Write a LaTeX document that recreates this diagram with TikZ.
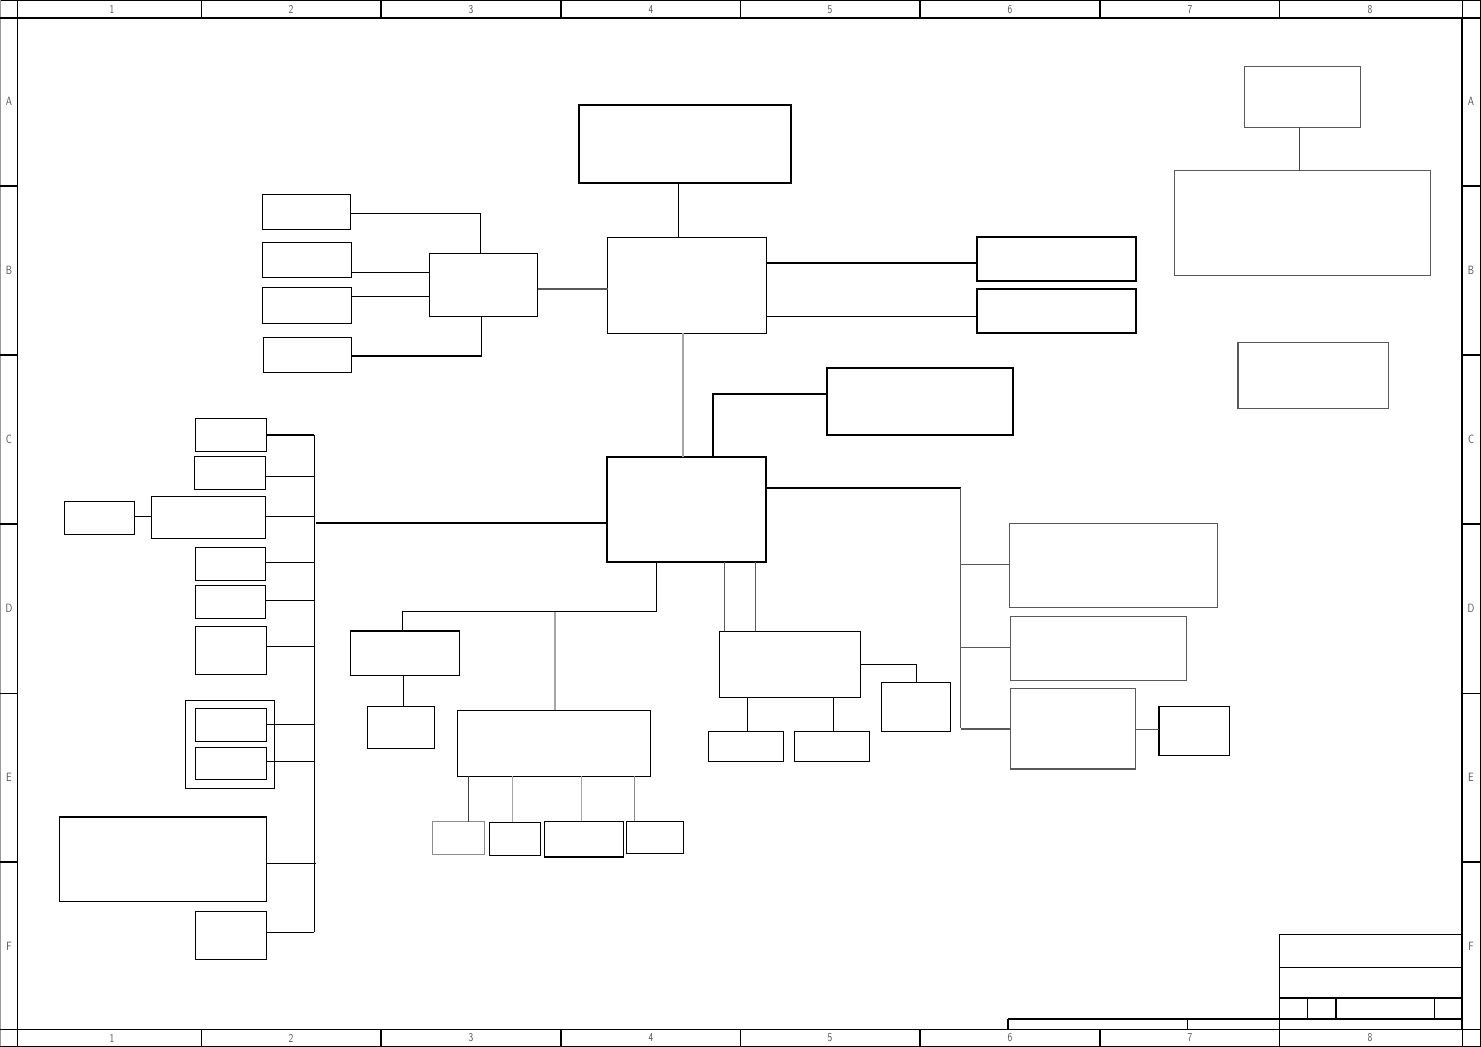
\documentclass[tikz,border=0pt]{standalone}
\usetikzlibrary{fit,calc}
\begin{document}
\begin{tikzpicture}[x=1pt,y=-1pt,
  bx/.style={draw, line width=1.3pt, inner sep=0pt, outer sep=0pt},
  gbx/.style={bx, draw=black!65},
  ln/.style={line width=1.3pt},
  gln/.style={line width=1.3pt, draw=black!65},
  lgln/.style={line width=1.3pt, draw=black!35},
  thk/.style={line width=2.4pt},
  fthin/.style={line width=0.9pt},
  fthk/.style={line width=1.9pt},
  lab/.style={font=\sffamily\fontsize{12}{12}\selectfont, text=black!70, inner sep=0pt, xscale=0.8}]
\useasboundingbox (0,0) rectangle (1481,1047);
% ---------------- frame ----------------
\draw[fthin] (0,0.6) -- (1481,0.6);
\draw[fthin, draw=black!40] (0.6,0) -- (0.6,1047);
\draw[fthin] (1480.3,0) -- (1480.3,1047);
\draw[fthin] (0,1046.3) -- (1481,1046.3);
\draw[fthk] (0,18) -- (1481,18);
\draw[fthin] (0,1029) -- (1481,1029);
\draw[fthk] (17.5,0) -- (17.5,1047);
\draw[fthk] (1462,18) -- (1462,1029);
\draw[fthin] (1462,0) -- (1462,18);
\draw[fthin] (1462,1029) -- (1462,1047);
\foreach \xx in {201,740,1279} {
  \draw[fthin] (\xx,0) -- (\xx,18);
  \draw[fthin] (\xx,1029) -- (\xx,1047);
}
\foreach \xx in {381,561,920,1100} {
  \draw[fthk] (\xx,0) -- (\xx,18);
  \draw[fthk] (\xx,1029) -- (\xx,1047);
}
\foreach \yy in {186,355,524,862} {
  \draw[fthk] (0,\yy) -- (17.5,\yy);
  \draw[fthk] (1462,\yy) -- (1481,\yy);
}
\draw[fthin] (0,693) -- (17.5,693);
\draw[fthin] (1462,693) -- (1481,693);
\foreach \n/\xx in {1/112,2/291,3/471,4/651,5/830,6/1010,7/1190,8/1370} {
  \node[lab] (ct\n) at (\xx,9.5) {\n};
  \node[lab] (cb\n) at (\xx,1038) {\n};
}
\foreach \l/\yy in {A/101,B/270,C/439,D/608,E/777,F/946} {
  \node[lab] (rl\l) at (9,\yy) {\l};
  \node[lab] (rr\l) at (1471,\yy) {\l};
}
% title block
\draw[fthin] (1279,934) -- (1462,934);
\draw[fthin] (1279,934) -- (1279,1029);
\draw[fthin] (1279,967) -- (1462,967);
\draw[fthk] (1279,998) -- (1462,998);
\draw[fthk] (1008,1019.3) -- (1462,1019.3);
\draw[fthk] (1008,1019.3) -- (1008,1029);
\draw[fthin] (1187.7,1019.3) -- (1187.7,1029);
\draw[fthin] (1307.7,998) -- (1307.7,1019.3);
\draw[fthk] (1336,998) -- (1336,1019.3);
\draw[fthin] (1434,998) -- (1434,1019.3);
% ---------------- boxes ----------------
\node[bx, fit={(579,105)(791,183)}] (T) {};
\node[bx, fit={(607.5,237.3)(766.4,333.3)}] (B) {};
\node[bx, fit={(429.3,253.3)(537.5,316.3)}] (H) {};
\node[bx, fit={(262.5,194.3)(350.7,229.3)}] (b1) {};
\node[bx, fit={(262.5,242.3)(351.4,277.3)}] (b2) {};
\node[bx, fit={(262.5,287.3)(351.4,323.3)}] (b3) {};
\node[bx, fit={(263.2,337.3)(351.4,372.3)}] (b4) {};
\node[bx, fit={(977,237)(1136,281)}] (R1) {};
\node[bx, fit={(977,289)(1136,333)}] (R2) {};
\node[gbx, fit={(1244.7,66.3)(1360.7,127.3)}] (TR1) {};
\node[gbx, fit={(1174.3,170.7)(1430.7,275.3)}] (TR2) {};
\node[gbx, fit={(1238,342.3)(1388.7,408.3)}] (TR3) {};
\node[bx, fit={(827,368)(1013,435)}] (M) {};
\node[bx, fit={(607,457)(766,562)}] (C) {};
\node[bx, fit={(195.3,418.3)(266.7,451.7)}] (L1) {};
\node[bx, fit={(194.3,456.3)(265.7,489.3)}] (L2) {};
\node[bx, fit={(151.3,496.3)(265.7,538.3)}] (L3) {};
\node[bx, fit={(64.3,501.3)(134.7,534.3)}] (L0) {};
\node[bx, fit={(195.3,547.3)(265.7,580.3)}] (L4) {};
\node[bx, fit={(195.3,585.3)(265.7,618.3)}] (L5) {};
\node[bx, fit={(195.3,626.3)(266.7,674.3)}] (L6) {};
\node[bx, fit={(185.3,700.3)(274.3,788.3)}] (G) {};
\node[bx, fit={(195.3,708.3)(266.7,741.3)}] (L7) {};
\node[bx, fit={(195.3,747.3)(266.7,779.3)}] (L8) {};
\node[bx, fit={(59.3,817)(266.7,901.3)}] (L9) {};
\node[bx, fit={(195.3,911.3)(266.7,959.3)}] (L10) {};
\node[bx, fit={(350.3,631)(459.7,675.3)}] (D1) {};
\node[bx, fit={(367.3,706.3)(434.7,748.3)}] (D2) {};
\node[bx, fit={(457.3,710.3)(650.7,776.3)}] (D3) {};
\node[gbx, draw=black!45, fit={(432.3,821.7)(484.3,854.7)}] (S1) {};
\node[bx, fit={(489.3,822.3)(540.3,855.3)}] (S2) {};
\node[bx, fit={(544.3,821.3)(623.3,857)}] (S3) {};
\node[bx, fit={(626.3,821.3)(683.3,853.3)}] (S4) {};
\node[gbx, fit={(1009.7,523.7)(1217.2,607.3)}] (E1) {};
\node[gbx, fit={(1010.3,616.3)(1186.2,680.7)}] (E2) {};
\node[gbx, fit={(1010.3,688.7)(1135.2,769)}] (E3) {};
\node[bx, fit={(1159,706.7)(1229.3,755.3)}] (E4) {};
\node[bx, fit={(719.3,631.3)(860.7,697.3)}] (F1) {};
\node[bx, fit={(881.7,682.3)(950.7,731.3)}] (F4) {};
\node[bx, fit={(708.3,731.3)(783.4,761.3)}] (F2) {};
\node[bx, fit={(794.5,731.3)(869.7,761.3)}] (F3) {};
% ---------------- connectors ----------------
\draw[ln] ([xshift=-6.5pt]T.south) -- ([xshift=-6.5pt]T.south |- B.north);
\draw[ln] ([yshift=-2pt]b1.east) -| ([xshift=-3pt]H.north);
\draw[ln] ([yshift=-12.5pt]b2.east) -- ([yshift=-12.5pt]b2.east -| H.west);
\draw[ln] ([yshift=9pt]b3.east) -- ([yshift=9pt]b3.east -| H.west);
\draw[ln] ([yshift=-1.2pt]b4.east) -| ([xshift=-2pt]H.south);
\draw[gln] ([yshift=-4.2pt]H.east) -- ([yshift=-4.2pt]H.east -| B.west);
\draw[ln] ([yshift=-4pt]R1.west) -- ([yshift=-4pt]R1.west -| B.east);
\draw[ln] ([yshift=-5.3pt]R2.west) -- ([yshift=-5.3pt]R2.west -| B.east);
\draw[lgln] ([xshift=-4pt]B.south) -- ([xshift=-4pt]B.south |- C.north);
\draw[ln] ([xshift=26.5pt]C.north) |- ([yshift=7.5pt]M.west);
\draw[gln, draw=black!75] ([xshift=-3.4pt]TR1.south) -- ([xshift=-3.4pt]TR1.south |- TR2.north);
% left bus
\coordinate (bt) at (314.3,435.3);
\coordinate (bb) at (314.3,932.3);
\draw[ln] (bt) -- (bb);
\draw[ln] (L1.east) -- (L1.east -| bt);
\draw[ln] ([yshift=-3.5pt]L2.east) -- ([yshift=-3.5pt]L2.east -| bt);
\draw[ln] ([yshift=1pt]L3.east) -- ([yshift=1pt]L3.east -| bt);
\draw[ln] ([yshift=1pt]L0.east) -- ([yshift=1pt]L0.east -| L3.west);
\draw[ln] ([yshift=1.5pt]L4.east) -- ([yshift=1.5pt]L4.east -| bt);
\draw[ln] ([yshift=1.5pt]L5.east) -- ([yshift=1.5pt]L5.east -| bt);
\draw[ln] ([yshift=4pt]L6.east) -- ([yshift=4pt]L6.east -| bt);
\draw[ln] ([yshift=0.5pt]L7.east) -- ([yshift=0.5pt]L7.east -| bt);
\draw[ln] ([yshift=2pt]L8.east) -- ([yshift=2pt]L8.east -| bt);
\draw[ln] ([yshift=-4pt]L9.east) -- ([yshift=-4pt,xshift=2pt]L9.east -| bt);
\draw[ln] ([yshift=3pt]L10.east) -- ([yshift=3pt]L10.east -| bt);
\draw[thk] ([yshift=-13.5pt]C.west) -- ([yshift=-13.5pt,xshift=2pt]C.west -| bt);
% lower left branch
\draw[ln] ([xshift=-30.2pt]C.south) -- ++(0,49.3) -| ([xshift=-2.7pt]D1.north);
\draw[ln] ([xshift=-1.7pt]D1.south) -- ([xshift=-1.7pt]D1.south |- D2.north);
\draw[lgln] ([xshift=1pt]D3.north) -- ++(0,-98);
\draw[gln, draw=black!75] ([xshift=10pt]S1.north) -- ([xshift=10pt]S1.north |- D3.south);
\draw[lgln] ([xshift=-2.1pt]S2.north) -- ([xshift=-2.1pt]S2.north |- D3.south);
\draw[lgln] ([xshift=-2.1pt]S3.north) -- ([xshift=-2.1pt]S3.north |- D3.south);
\draw[lgln, draw=black!45] ([xshift=-20.5pt]S4.north) -- ([xshift=-20.5pt]S4.north |- D3.south);
% right branch
\coordinate (ej) at (960.5,488);
\draw[thk] ([yshift=21.5pt]C.east) -- (ej);
\draw[gln] (ej) -- (960.5,728.3);
\draw[gln] ([yshift=1.2pt]E1.west) -- ([yshift=1.2pt]E1.west -| ej);
\draw[gln] ([yshift=1.2pt]E2.west) -- ([yshift=1.2pt]E2.west -| ej);
\draw[gln] (E3.west) -- (E3.west -| ej);
\draw[gln] ([yshift=1.7pt]E4.west) -- ([yshift=1.7pt]E4.west -| E3.east);
% F group
\draw[gln] ([xshift=38pt]C.south) -- ([xshift=38pt]C.south |- F1.north);
\draw[gln] ([xshift=69pt]C.south) -- ([xshift=69pt]C.south |- F1.north);
\draw[ln] (F1.east) -| (F4.north);
\draw[ln] ([xshift=1.3pt]F2.north) -- ([xshift=1.3pt]F2.north |- F1.south);
\draw[ln] ([xshift=1.3pt]F3.north) -- ([xshift=1.3pt]F3.north |- F1.south);
\end{tikzpicture}
\end{document}
